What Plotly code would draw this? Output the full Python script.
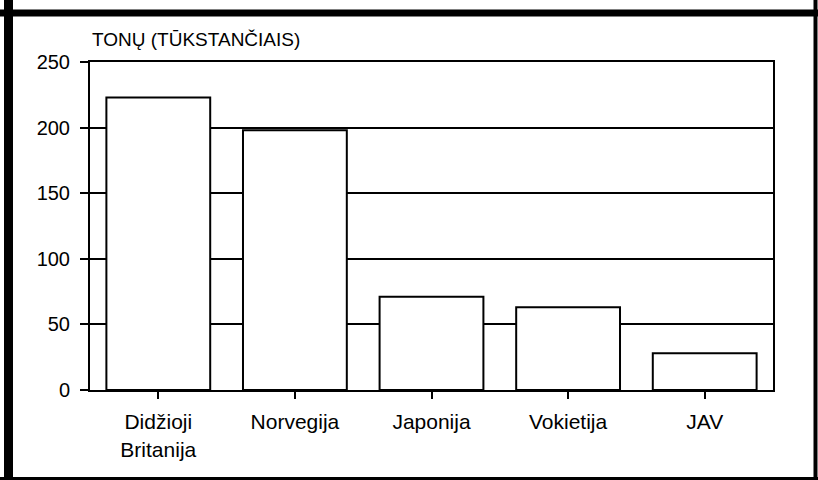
import plotly.graph_objects as go

# data
countries = ['Didžioji<br>Britanija', 'Norvegija', 'Japonija', 'Vokietija', 'JAV']
tonnes = [223, 198, 71, 63, 28]
y_ticks = [0, 50, 100, 150, 200, 250]
title_text = 'TONŲ (TŪKSTANČIAIS)'

W, H = 818, 480
L, R, T, B = 90, 45, 62, 90
pw, ph = W - L - R, H - T - B


def px(x):
    return (x - L) / pw


def py(y):
    return (H - B - y) / ph


font = dict(family='Liberation Sans, Arial, sans-serif', color='black')

fig = go.Figure()
fig.add_trace(go.Bar(
    x=countries,
    y=tonnes,
    marker=dict(color='white', line=dict(color='black', width=2)),
    hoverinfo='skip',
))

fig.update_layout(
    width=W, height=H,
    margin=dict(l=L, r=R, t=T, b=B),
    paper_bgcolor='white',
    plot_bgcolor='white',
    bargap=0.24,
    showlegend=False,
    font=dict(size=20, **font),
    xaxis=dict(
        showline=True, linecolor='black', linewidth=2, mirror=True,
        ticks='outside', ticklen=7, tickwidth=2, tickcolor='black',
        showgrid=False,
        ticklabelstandoff=5,
        tickfont=dict(size=21, **font),
    ),
    yaxis=dict(
        range=[0, 250],
        tickvals=y_ticks,
        showline=True, linecolor='black', linewidth=2, mirror=True,
        ticks='outside', ticklen=8, tickwidth=2, tickcolor='black',
        showgrid=True, gridcolor='black', gridwidth=1.5,
        zeroline=False,
        ticklabelstandoff=6,
        tickfont=dict(size=20, **font),
    ),
)

fig.add_annotation(
    text=title_text, xref='paper', yref='paper',
    x=0, y=py(39), xanchor='left', yanchor='middle',
    showarrow=False, font=dict(size=19, **font),
)

# outer frame
frame = [
    (8.5, 0, 8.5, H, 9),
    (0, 13, W, 13, 7),
    (815.5, 0, 815.5, H, 4),
    (0, 478.5, W, 478.5, 3),
]
for x0, y0, x1, y1, w in frame:
    fig.add_shape(type='line', xref='paper', yref='paper',
                  x0=px(x0), y0=py(y0), x1=px(x1), y1=py(y1),
                  line=dict(color='black', width=w))

fig.write_html('out.html', config={'displayModeBar': False},
               post_script="document.body.style.margin='0';")
